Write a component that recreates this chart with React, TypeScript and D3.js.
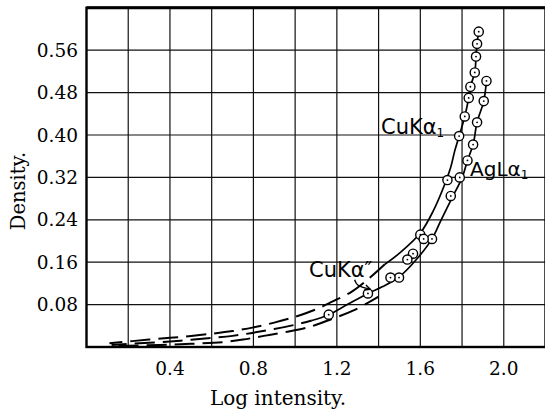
import React from "react";
import * as d3 from "d3";

// ---- Data ----
const xTickLabels = [0.4, 0.8, 1.2, 1.6, 2.0];
const yTickLabels = [0.08, 0.16, 0.24, 0.32, 0.40, 0.48, 0.56];
const xGrid = [0.2, 0.4, 0.6, 0.8, 1.0, 1.2, 1.4, 1.6, 1.8, 2.0];

// circles: [log intensity, density]
const cuKa1Points: [number, number][] = [
  [1.88, 0.595], [1.872, 0.572], [1.867, 0.548], [1.861, 0.518], [1.84, 0.491],
  [1.832, 0.47], [1.813, 0.435], [1.786, 0.398], [1.73, 0.315], [1.60, 0.212],
];
const agLa1Points: [number, number][] = [
  [1.917, 0.502], [1.904, 0.464], [1.872, 0.424], [1.853, 0.382], [1.826, 0.352],
  [1.789, 0.32], [1.746, 0.285], [1.656, 0.204],
];
const cuKa2Points: [number, number][] = [
  [1.616, 0.204], [1.565, 0.176], [1.538, 0.165], [1.498, 0.131], [1.457, 0.131],
  [1.349, 0.101], [1.161, 0.061],
];

// curves
const cuKa1Solid: [number, number][] = [
  [1.88, 0.595], [1.872, 0.572], [1.867, 0.548], [1.861, 0.518], [1.84, 0.491],
  [1.832, 0.47], [1.813, 0.435], [1.786, 0.398], [1.765, 0.37], [1.745, 0.338],
  [1.72, 0.31], [1.661, 0.256], [1.60, 0.215], [1.50, 0.177], [1.43, 0.156],
];
const cuKa1Dashed: [number, number][] = [
  [1.43, 0.156], [1.35, 0.128], [1.27, 0.104], [1.18, 0.086], [1.10, 0.071],
  [1.0, 0.057], [0.9, 0.046], [0.8, 0.037], [0.7, 0.03], [0.6, 0.025],
  [0.45, 0.019], [0.3, 0.014], [0.11, 0.007],
];
const agLa1Solid: [number, number][] = [
  [1.917, 0.502], [1.904, 0.464], [1.872, 0.424], [1.853, 0.382], [1.826, 0.352],
  [1.80, 0.319], [1.754, 0.283], [1.70, 0.24], [1.656, 0.204], [1.581, 0.165],
  [1.501, 0.133], [1.42, 0.114], [1.349, 0.101], [1.25, 0.08], [1.161, 0.061],
  [1.08, 0.05],
];
const agLa1Dashed: [number, number][] = [
  [1.08, 0.05], [1.0, 0.042], [0.9, 0.034], [0.8, 0.027], [0.7, 0.021],
  [0.6, 0.017], [0.45, 0.012], [0.3, 0.008], [0.12, 0.004],
];
const lowerDashed: [number, number][] = [
  [1.40, 0.095], [1.28, 0.069], [1.17, 0.052], [1.07, 0.038], [0.95, 0.028],
  [0.85, 0.021], [0.75, 0.014], [0.65, 0.009], [0.5, 0.006], [0.35, 0.004],
  [0.15, 0.002],
];
const arrowPath: [number, number][] = [[1.285, 0.127], [1.30, 0.117], [1.36, 0.109]];

const W = 545;
const H = 415;

export default function App() {
  const x = d3.scaleLinear().domain([0, 2.2]).range([86.5, 545.5]);
  const y = d3.scaleLinear().domain([0, 0.64]).range([347, 7.8]);
  const smooth = d3
    .line<[number, number]>()
    .x((d) => x(d[0]))
    .y((d) => y(d[1]))
    .curve(d3.curveCatmullRom.alpha(0.5));
  const serif = "'DejaVu Serif', serif";
  const hand = "'DejaVu Sans', sans-serif";
  const allPoints = [...cuKa1Points, ...agLa1Points, ...cuKa2Points];
  const dash = "20 8";
  const a0 = arrowPath[arrowPath.length - 1];
  const a1 = arrowPath[arrowPath.length - 2];
  const ang = Math.atan2(y(a0[1]) - y(a1[1]), x(a0[0]) - x(a1[0]));
  const ah = 6;
  return (
    <svg
      width={W}
      height={H}
      style={{ position: "absolute", left: 0, top: 0, background: "#fff" }}
    >
      {/* grid */}
      {xGrid.map((v) => (
        <line key={"gx" + v} x1={x(v)} x2={x(v)} y1={y(0.64)} y2={y(0)} stroke="#111" strokeWidth={1.2} />
      ))}
      {yTickLabels.map((v) => (
        <line key={"gy" + v} x1={x(0)} x2={x(2.2)} y1={y(v)} y2={y(v)} stroke="#111" strokeWidth={1.2} />
      ))}
      {/* frame */}
      <rect x={x(0)} y={y(0.64)} width={x(2.2) - x(0)} height={y(0) - y(0.64)} fill="none" stroke="#000" strokeWidth={2.4} />
      <line x1={x(0)} x2={x(2.2)} y1={y(0.64)} y2={y(0.64)} stroke="#000" strokeWidth={3} />
      {/* curves */}
      <path d={smooth(cuKa1Solid) || ""} fill="none" stroke="#000" strokeWidth={1.7} />
      <path d={smooth(agLa1Solid) || ""} fill="none" stroke="#000" strokeWidth={1.7} />
      <path d={smooth(cuKa1Dashed) || ""} fill="none" stroke="#000" strokeWidth={2} strokeDasharray={dash} />
      <path d={smooth(agLa1Dashed) || ""} fill="none" stroke="#000" strokeWidth={2} strokeDasharray={dash} strokeDashoffset={9} />
      <path d={smooth(lowerDashed) || ""} fill="none" stroke="#000" strokeWidth={2} strokeDasharray={dash} strokeDashoffset={4} />
      {/* circles */}
      {allPoints.map((p, i) => (
        <g key={"pt" + i}>
          <circle cx={x(p[0])} cy={y(p[1])} r={4.6} fill="#fff" stroke="#000" strokeWidth={1.4} />
          <circle cx={x(p[0])} cy={y(p[1])} r={0.9} fill="#000" />
        </g>
      ))}
      {/* annotations */}
      <text x={381} y={134} fontFamily={hand} fontSize={21} fill="#000">
        CuKα<tspan fontSize={12} dy={3}>1</tspan>
      </text>
      <text x={470} y={176} fontFamily={hand} fontSize={20} fill="#000">
        AgLα<tspan fontSize={12} dy={3}>1</tspan>
      </text>
      <text x={309} y={277} fontFamily={hand} fontSize={21} fill="#000">
        CuKα″
      </text>
      <path d={smooth(arrowPath) || ""} fill="none" stroke="#000" strokeWidth={1.4} />
      <path
        d={`M${x(a0[0])},${y(a0[1])} L${x(a0[0]) - ah * Math.cos(ang - 0.45)},${y(a0[1]) - ah * Math.sin(ang - 0.45)} M${x(a0[0])},${y(a0[1])} L${x(a0[0]) - ah * Math.cos(ang + 0.45)},${y(a0[1]) - ah * Math.sin(ang + 0.45)}`}
        fill="none"
        stroke="#000"
        strokeWidth={1.4}
      />
      {/* tick labels */}
      {xTickLabels.map((v) => (
        <text key={"xl" + v} x={x(v)} y={375} textAnchor="middle" fontFamily={serif} fontSize={18.5} fill="#000">
          {v.toFixed(1)}
        </text>
      ))}
      {yTickLabels.map((v) => (
        <text key={"yl" + v} x={78} y={y(v)} textAnchor="end" dominantBaseline="central" fontFamily={serif} fontSize={18.5} fill="#000">
          {v.toFixed(2)}
        </text>
      ))}
      <text x={278} y={405} textAnchor="middle" fontFamily={serif} fontSize={20} fill="#000">
        Log intensity.
      </text>
      <text
        transform={`translate(25,191) rotate(-90)`}
        textAnchor="middle"
        fontFamily={serif}
        fontSize={19.5}
        fill="#000"
      >
        Density.
      </text>
    </svg>
  );
}
